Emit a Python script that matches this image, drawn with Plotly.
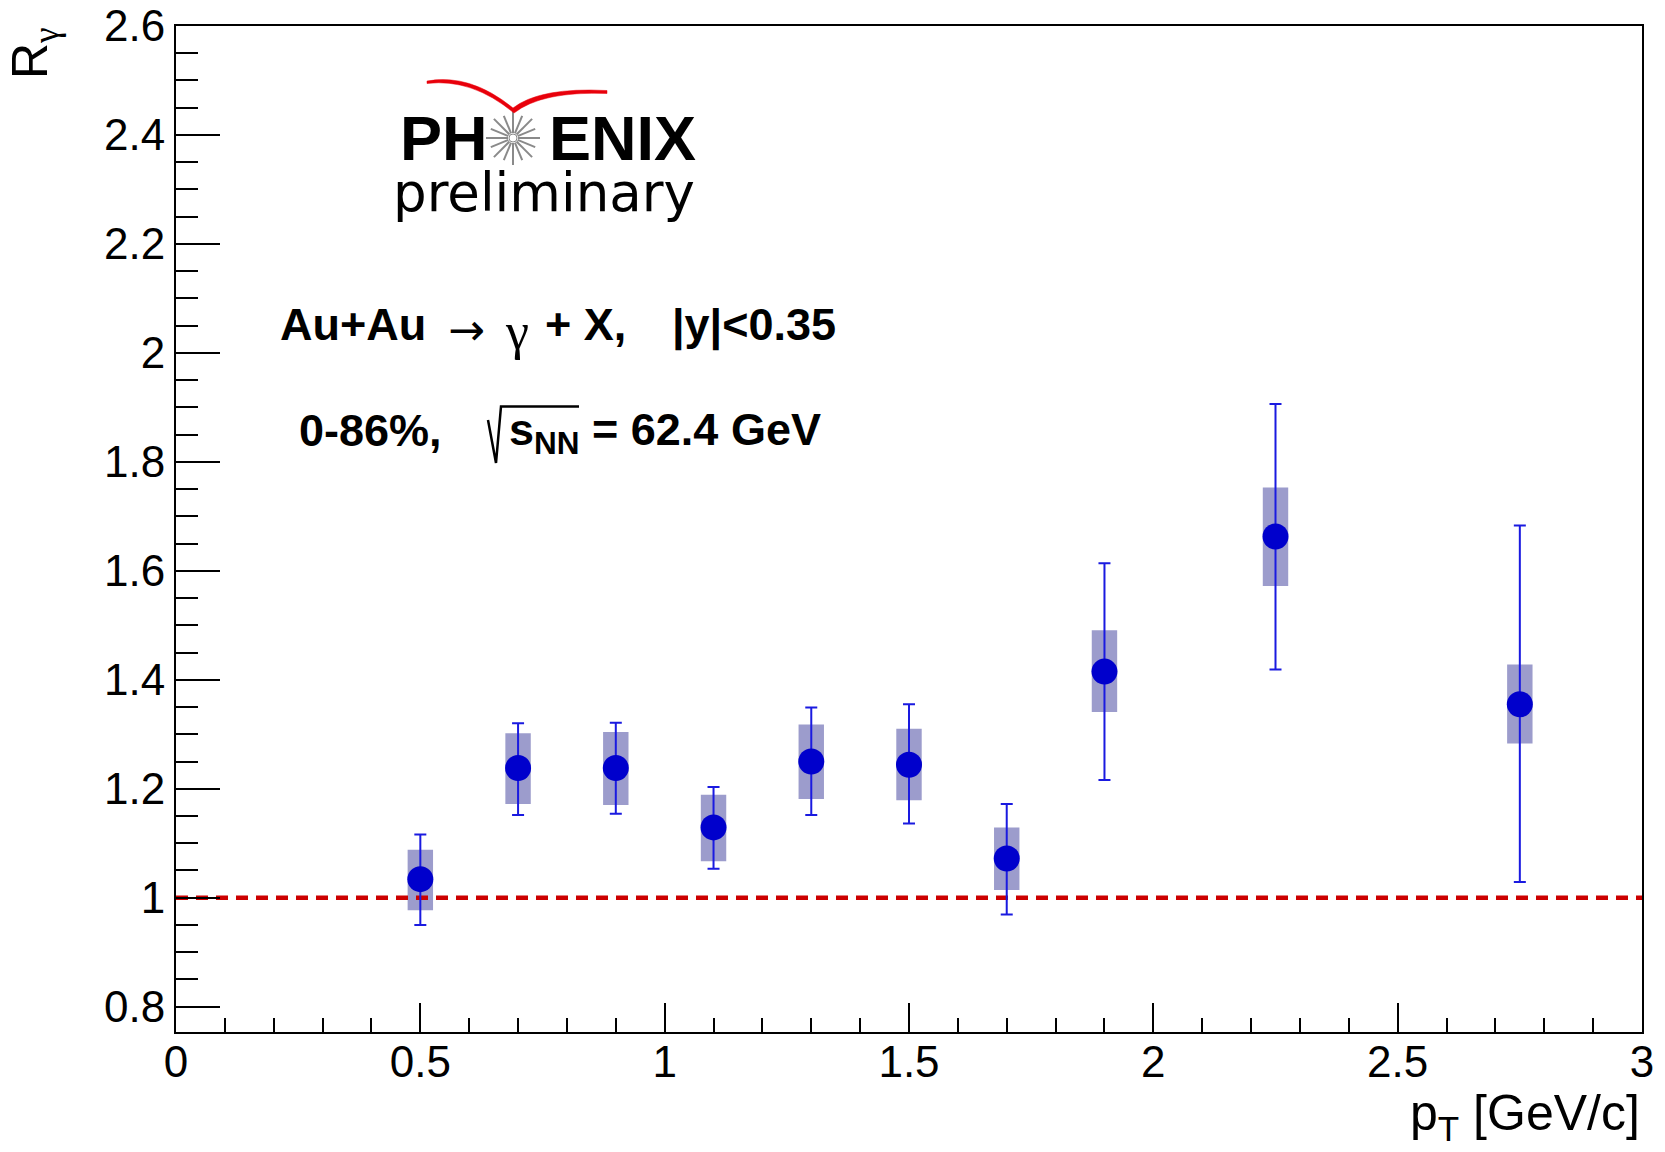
import math
import plotly.graph_objects as go

# ---------------- data ----------------
pt = [0.5, 0.7, 0.9, 1.1, 1.3, 1.5, 1.7, 1.9, 2.25, 2.75]
r_gamma = [1.034, 1.238, 1.238, 1.129, 1.250, 1.244, 1.072, 1.415, 1.663, 1.355]
stat_up = [0.082, 0.082, 0.083, 0.074, 0.099, 0.111, 0.100, 0.199, 0.243, 0.328]
stat_dn = [0.084, 0.086, 0.084, 0.076, 0.098, 0.108, 0.103, 0.199, 0.244, 0.326]
sys_up = [0.054, 0.064, 0.066, 0.060, 0.068, 0.066, 0.057, 0.076, 0.090, 0.073]
sys_dn = [0.057, 0.066, 0.068, 0.062, 0.069, 0.065, 0.058, 0.074, 0.091, 0.072]
ref_x = [0.0, 3.0]
ref_y = [1.0, 1.0]
x_tickvals = [0, 0.5, 1, 1.5, 2, 2.5, 3]
x_ticktext = ["0", "0.5", "1", "1.5", "2", "2.5", "3"]
y_tickvals = [0.8, 1.0, 1.2, 1.4, 1.6, 1.8, 2.0, 2.2, 2.4, 2.6]
y_ticktext = ["0.8", "1", "1.2", "1.4", "1.6", "1.8", "2", "2.2", "2.4", "2.6"]

# ---------------- layout geometry ----------------
W, H = 1665, 1152
L, R, T, B = 176, 23, 26, 120
PW, PH = W - L - R, H - T - B


def pp(x, y):
    """pixel -> paper coordinates"""
    return (x - L) / PW, (H - B - y) / PH


FONT = "Liberation Sans, Arial, sans-serif"
SERIF = "Liberation Serif, Times New Roman, serif"

fig = go.Figure()

# systematic boxes
fig.add_trace(go.Bar(
    x=pt,
    base=[v - d for v, d in zip(r_gamma, sys_dn)],
    y=[u + d for u, d in zip(sys_up, sys_dn)],
    width=0.052,
    marker=dict(color="#9c9ccc", line=dict(width=0)),
    showlegend=False, hoverinfo="skip",
))

# reference line at 1
fig.add_trace(go.Scatter(
    x=ref_x, y=ref_y, mode="lines",
    line=dict(color="#cc0000", width=4.5, dash="12px,8px"),
    showlegend=False, hoverinfo="skip",
))

# data points with statistical errors
fig.add_trace(go.Scatter(
    x=pt, y=r_gamma, mode="markers",
    marker=dict(size=26, color="#0000cc"),
    error_y=dict(type="data", symmetric=False, array=stat_up, arrayminus=stat_dn,
                 color="#1a1ae0", thickness=2, width=6),
    showlegend=False,
))

axis_common = dict(
    showgrid=False, zeroline=False, showline=True, linewidth=2, linecolor="black",
    mirror=True, ticks="inside", tickwidth=2, tickcolor="black", automargin=False,
    tickfont=dict(family=FONT, size=44, color="black"),
)

fig.update_xaxes(
    range=[0, 3], tickmode="array", tickvals=x_tickvals, ticktext=x_ticktext,
    ticklen=29, ticklabelstandoff=-10,
    minor=dict(ticks="inside", ticklen=14, tickwidth=2, tickcolor="black",
               tickmode="linear", tick0=0, dtick=0.1),
    **axis_common,
)
fig.update_yaxes(
    range=[0.7535, 2.6], tickmode="array", tickvals=y_tickvals, ticktext=y_ticktext,
    ticklen=44,
    minor=dict(ticks="inside", ticklen=22, tickwidth=2, tickcolor="black",
               tickmode="linear", tick0=0, dtick=0.05),
    **axis_common,
)

annotations = []
shapes = []


def ann(text, x, y, size, xanchor="left", yanchor="middle", family=FONT, angle=0, color="black"):
    px, py = pp(x, y)
    annotations.append(dict(
        text=text, x=px, y=py, xref="paper", yref="paper", showarrow=False,
        xanchor=xanchor, yanchor=yanchor, textangle=angle,
        font=dict(family=family, size=size, color=color),
    ))


# axis titles
ann(f"R<sub><span style='font-family:{SERIF}'>γ</span></sub>", 34, 25, 50,
    xanchor="center", yanchor="top", angle=-90)
ann("p<sub>T</sub> [GeV/c]", 1642, 1116, 50, xanchor="right", yanchor="middle")

# physics text line 1
ann("<b>Au+Au</b>", 278, 325, 45)
ann("→", 446, 329, 44, family="DejaVu Sans, sans-serif")
ann("γ", 503, 331, 52, family=SERIF)
ann("<b>+ X,</b>", 543, 325, 45)
ann("<b>|y|&lt;0.35</b>", 838, 325, 45, xanchor="right")

# physics text line 2
ann("<b>0-86%,</b>", 297, 430, 45)
ann("<b>s<sub>NN</sub> = 62.4 GeV</b>", 507, 432, 45)
x0, y0 = pp(488, 420)
x1, y1 = pp(496, 463)
x2, y2 = pp(501, 406.5)
x3, y3 = pp(579, 406.5)
shapes.append(dict(type="path", xref="paper", yref="paper",
                   path=f"M {x0},{y0} L {x1},{y1} L {x2},{y2} L {x3},{y3}",
                   line=dict(color="black", width=2.5)))

# PHENIX logo
ann("<b>PH</b>", 398, 138, 63)
ann("<b>ENIX</b>", 547, 138, 63)
ann("preliminary", 391, 192, 53, family="DejaVu Sans, Verdana, sans-serif")

cx, cy = 513, 138
for k in range(16):
    a = 2 * math.pi * k / 16
    rout = 27 if k % 2 == 0 else 24
    xa, ya = pp(cx + 5 * math.cos(a), cy + 5 * math.sin(a))
    xb, yb = pp(cx + rout * math.cos(a), cy + rout * math.sin(a))
    shapes.append(dict(type="line", xref="paper", yref="paper", x0=xa, y0=ya, x1=xb, y1=yb,
                       line=dict(color="#8a8a8a", width=2)))
ca, cb = pp(cx - 4, cy - 4)
cc, cd = pp(cx + 4, cy + 4)
shapes.append(dict(type="circle", xref="paper", yref="paper", x0=ca, y0=cb, x1=cc, y1=cd,
                   fillcolor="white", line=dict(color="#8a8a8a", width=1)))

# red swoosh
pts = [(427, 81), (470, 73), (513, 108), (540, 87), (607, 90.5),
       (607, 93.5), (542, 91), (514, 113), (472, 78), (427, 83.5)]
P = [pp(a, b) for a, b in pts]
swoosh = (f"M {P[0][0]},{P[0][1]} Q {P[1][0]},{P[1][1]} {P[2][0]},{P[2][1]} "
          f"Q {P[3][0]},{P[3][1]} {P[4][0]},{P[4][1]} L {P[5][0]},{P[5][1]} "
          f"Q {P[6][0]},{P[6][1]} {P[7][0]},{P[7][1]} Q {P[8][0]},{P[8][1]} {P[9][0]},{P[9][1]} Z")
shapes.append(dict(type="path", xref="paper", yref="paper", path=swoosh,
                   fillcolor="#e8000b", line=dict(color="#e8000b", width=0.5)))

fig.update_layout(
    width=W, height=H,
    margin=dict(l=L, r=R, t=T, b=B),
    plot_bgcolor="white", paper_bgcolor="white",
    annotations=annotations, shapes=shapes,
    showlegend=False,
)

fig.write_html("out.html")
